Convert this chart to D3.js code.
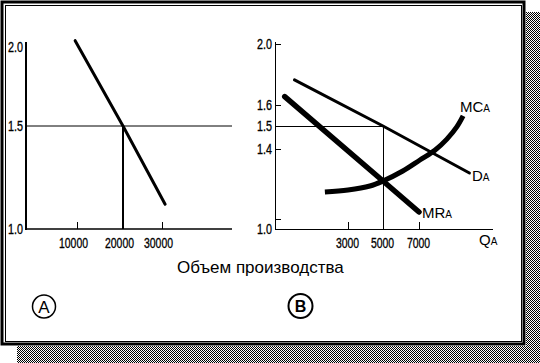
<!DOCTYPE html>
<html><head><meta charset="utf-8">
<script src="https://cdn.jsdelivr.net/npm/d3@7"></script>
<style>body{margin:0;background:#fff}svg{display:block}</style>
</head><body><svg id="c" width="540" height="363"></svg>
<script>
// ---------- Panel A data ----------
const priceTicksA = [1.0, 1.5, 2.0];
const qtyTicksA = [10000, 20000, 30000];
const demandA_q = [9600, 20000, 30800];
const demandA_p = [2.04, 1.5, 1.12];
const eqA = [20000, 1.5];

// ---------- Panel B data ----------
const priceTicksB = [1.0, 1.4, 1.5, 1.6, 2.0];
const priceTickMarksB = [1.05, 1.4, 1.6, 2.0];
const qtyTicksB = [3000, 5000, 7000];
const demandB_q = [800, 5000, 9800];
const demandB_p = [1.765, 1.5, 1.28];
const mrB_q = [400, 5000, 7000];
const mrB_p = [1.655, 1.24, 1.085];
const mcB_q = [2050, 3000, 4250, 5000, 6100, 7050, 7900, 8550, 9100, 9450];
const mcB_p = [1.185, 1.195, 1.215, 1.24, 1.29, 1.345, 1.395, 1.443, 1.496, 1.548];
const eqB = [5000, 1.5];

const xLabel = "Объем производства";
const panelLabels = ["A", "В"];

const svg = d3.select("#c");
const FONT = "'Liberation Sans',Arial,sans-serif";
const SANS = "'Liberation Sans',Arial,sans-serif";

// condensed tick text: ~6px per character
function condense(sel){
  sel.style("font-family",FONT).style("font-size","15px")
    .attr("stroke","#000").attr("stroke-width",0.35)
    .attr("lengthAdjust","spacingAndGlyphs")
    .attr("textLength", function(){ const s = d3.select(this).text(); return s.length===3 ? 15 : s.length*5.8; });
}

// ---------- frame & shadow ----------
const defs = svg.append("defs");
const pat = defs.append("pattern").attr("id","dots").attr("width",2).attr("height",2)
  .attr("patternUnits","userSpaceOnUse");
pat.append("rect").attr("x",0).attr("y",0).attr("width",1).attr("height",1).attr("fill","#000");
pat.append("rect").attr("x",1).attr("y",1).attr("width",1).attr("height",1).attr("fill","#000");
svg.append("rect").attr("x",526).attr("y",12).attr("width",14).attr("height",351)
  .attr("fill","url(#dots)").attr("shape-rendering","crispEdges");
svg.append("rect").attr("x",17).attr("y",346).attr("width",509).attr("height",17)
  .attr("fill","url(#dots)").attr("shape-rendering","crispEdges");
svg.append("rect").attr("x",2).attr("y",2).attr("width",522).attr("height",342)
  .attr("fill","#fff").attr("stroke","#000").attr("stroke-width",3);
svg.append("rect").attr("x",5.5).attr("y",5.5).attr("width",516).attr("height",336)
  .attr("fill","none").attr("stroke","#000").attr("stroke-width",1);

// ---------- Panel A ----------
const xA = d3.scaleLinear().domain(qtyTicksA).range([77, 123, 162]);
const yA = d3.scaleLinear().domain(priceTicksA).range([229, 126, 47]);
const gA = svg.append("g");
gA.append("line").attr("x1",26).attr("x2",26).attr("y1",42).attr("y2",230)
  .attr("stroke","#000").attr("stroke-width",2);
gA.append("line").attr("x1",26).attr("x2",232).attr("y1",229).attr("y2",229)
  .attr("stroke","#000").attr("stroke-width",1.5);
const axA = gA.append("g").attr("transform","translate(0,229)")
  .call(d3.axisBottom(xA).tickValues(qtyTicksA).tickSizeInner(-7).tickSizeOuter(0).tickPadding(8).tickFormat(d3.format("d")));
axA.select(".domain").remove();
axA.selectAll(".tick line").attr("stroke-width",1);
axA.selectAll("text").attr("dx",-4).call(condense);
const ayA = gA.append("g").attr("transform","translate(26,0)")
  .call(d3.axisLeft(yA).tickValues(priceTicksA).tickSize(0).tickPadding(3).tickFormat(d3.format(".1f")));
ayA.select(".domain").remove();
ayA.selectAll("text").call(condense);
gA.append("line").attr("x1",26).attr("x2",232).attr("y1",yA(eqA[1])).attr("y2",yA(eqA[1]))
  .attr("stroke","#000").attr("stroke-width",1);
gA.append("line").attr("x1",xA(eqA[0])).attr("x2",xA(eqA[0])).attr("y1",yA(eqA[1])).attr("y2",229)
  .attr("stroke","#000").attr("stroke-width",2);
const lineA = d3.line().x((d,i)=>xA(demandA_q[i])).y((d,i)=>yA(demandA_p[i]));
gA.append("path").attr("d", lineA(demandA_q)).attr("fill","none").attr("stroke","#000")
  .attr("stroke-width",3).attr("stroke-linecap","round");

// ---------- Panel B ----------
const xB = d3.scaleLinear().domain([0, ...qtyTicksB]).range([275, 348, 383, 419]);
const yB = d3.scaleLinear().domain(priceTicksB).range([229, 149, 126, 105, 44]);
const gB = svg.append("g");
gB.append("line").attr("x1",275.5).attr("x2",275.5).attr("y1",42).attr("y2",229.5)
  .attr("stroke","#000").attr("stroke-width",1);
gB.append("line").attr("x1",275).attr("x2",493).attr("y1",229.5).attr("y2",229.5)
  .attr("stroke","#000").attr("stroke-width",1);
const axB = gB.append("g").attr("transform","translate(0,229)")
  .call(d3.axisBottom(xB).tickValues(qtyTicksB).tickSizeInner(-7).tickSizeOuter(0).tickPadding(8).tickFormat(d3.format("d")));
axB.select(".domain").remove();
axB.selectAll("text").attr("dx",-1).call(condense);
gB.selectAll(".ytm").data(priceTickMarksB).enter().append("line")
  .attr("x1",275).attr("x2",281).attr("y1",d=>Math.round(yB(d))+0.5).attr("y2",d=>Math.round(yB(d))+0.5)
  .attr("stroke","#000").attr("stroke-width",1);
const ayB = gB.append("g").attr("transform","translate(275,0)")
  .call(d3.axisLeft(yB).tickValues(priceTicksB).tickSize(0).tickPadding(3).tickFormat(d3.format(".1f")));
ayB.select(".domain").remove();
ayB.selectAll("text").call(condense);
gB.append("line").attr("x1",275).attr("x2",xB(eqB[0])).attr("y1",yB(eqB[1])+0.5).attr("y2",yB(eqB[1])+0.5)
  .attr("stroke","#000").attr("stroke-width",1);
gB.append("line").attr("x1",xB(eqB[0])+0.5).attr("x2",xB(eqB[0])+0.5).attr("y1",yB(eqB[1])).attr("y2",229)
  .attr("stroke","#000").attr("stroke-width",1);
gB.append("path").attr("d", d3.line().x((d,i)=>xB(demandB_q[i])).y((d,i)=>yB(demandB_p[i]))(demandB_q))
  .attr("fill","none").attr("stroke","#000").attr("stroke-width",3).attr("stroke-linecap","round");
gB.append("path").attr("d", d3.line().x((d,i)=>xB(mrB_q[i])).y((d,i)=>yB(mrB_p[i]))(mrB_q))
  .attr("fill","none").attr("stroke","#000").attr("stroke-width",5.5).attr("stroke-linecap","round");
gB.append("path").attr("d", d3.line().curve(d3.curveCatmullRom).x((d,i)=>xB(mcB_q[i])).y((d,i)=>yB(mcB_p[i]))(mcB_q))
  .attr("fill","none").attr("stroke","#000").attr("stroke-width",5).attr("stroke-linecap","butt");

function subLabel(x, y, main, sub){
  const t = svg.append("text").attr("x",x).attr("y",y).style("font-family",SANS).style("font-size","15px");
  t.append("tspan").text(main);
  t.append("tspan").style("font-size","10px").text(sub);
}
subLabel(460, 112, "MC", "A");
subLabel(472, 181, "D", "A");
subLabel(422, 218, "MR", "A");
subLabel(479, 245, "Q", "A");

svg.append("text").attr("x",177).attr("y",273).style("font-family",SANS).style("font-size","17px").text(xLabel);

svg.append("circle").attr("cx",44).attr("cy",306.5).attr("r",11.5).attr("fill","none").attr("stroke","#000").attr("stroke-width",1.5);
svg.append("text").attr("x",44).attr("y",312.5).attr("text-anchor","middle").style("font-family",SANS).style("font-size","17px").text(panelLabels[0]);
svg.append("circle").attr("cx",300.5).attr("cy",306).attr("r",12).attr("fill","none").attr("stroke","#000").attr("stroke-width",2);
svg.append("text").attr("x",300.5).attr("y",312).attr("text-anchor","middle").style("font-family",SANS).style("font-size","16px").style("font-weight","bold").text(panelLabels[1]);
</script></body></html>
